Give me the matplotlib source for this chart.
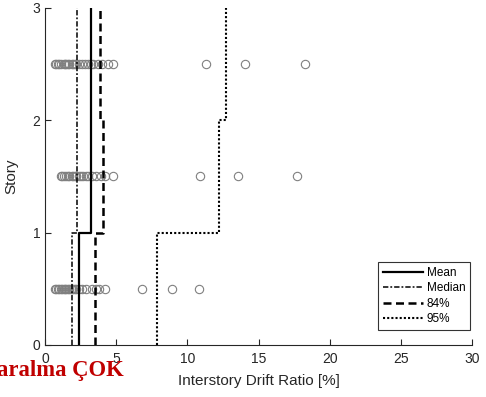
import matplotlib
matplotlib.use("Agg")
import matplotlib.pyplot as plt

plt.rcParams['font.family'] = ['Liberation Sans', 'DejaVu Sans']

# Story boundaries for the step profiles
story_edges = [0, 1, 2, 3]

# Drift ratio statistics per story [%]
mean_drift = [2.4, 3.23, 3.23]
median_drift = [1.9, 2.23, 2.23]
p84_drift = [3.51, 4.08, 3.89]
p95_drift = [7.85, 12.23, 12.72]

# Individual record drift ratios [%] at mid-height of each story
story_mid = [0.5, 1.5, 2.5]
drift_story1 = [0.7, 0.8, 0.9, 1.0, 1.1, 1.2, 1.3, 1.4, 1.5, 1.6, 1.7, 1.8,
                1.9, 2.0, 2.1, 2.2, 2.4, 2.6, 2.9, 3.3, 3.6, 3.8, 4.2,
                6.82, 8.92, 10.82]
drift_story2 = [1.1, 1.2, 1.3, 1.5, 1.6, 1.7, 1.9, 2.0, 2.1, 2.2, 2.4, 2.5,
                2.7, 2.9, 3.0, 3.3, 3.6, 3.9, 4.2, 4.8,
                10.87, 13.59, 17.73]
drift_story3 = [0.7, 0.8, 0.9, 1.0, 1.1, 1.3, 1.4, 1.5, 1.6, 1.7, 1.9, 2.0,
                2.1, 2.2, 2.4, 2.6, 2.8, 3.0, 3.2, 3.4, 3.7, 4.0, 4.4, 4.8,
                11.34, 14.08, 18.25]

x_ticks = [0, 5, 10, 15, 20, 25, 30]
y_ticks = [0, 1, 2, 3]


def stair(values):
    xs, ys = [], []
    for i, v in enumerate(values):
        xs += [v, v]
        ys += [story_edges[i], story_edges[i + 1]]
    return xs, ys


fig = plt.figure(figsize=(4.86, 3.97), dpi=100)
ax = fig.add_axes([0.0926, 0.131, 0.8786, 0.849])

txt = '#262626'
for mid, vals in zip(story_mid, [drift_story1, drift_story2, drift_story3]):
    ax.plot(vals, [mid] * len(vals), linestyle='none', marker='o',
            markersize=6, markerfacecolor='none', markeredgecolor='#808080',
            markeredgewidth=0.8, zorder=2)

xs, ys = stair(mean_drift)
ax.plot(xs, ys, color='black', lw=1.6, linestyle='-', label='Mean', zorder=3)
xs, ys = stair(median_drift)
ax.plot(xs, ys, color='black', lw=1.1, linestyle=(0, (3.5, 1.3, 1.2, 1.3)),
        label='Median', zorder=3)
xs, ys = stair(p84_drift)
ax.plot(xs, ys, color='black', lw=1.8, linestyle=(0, (3.2, 1.8)),
        label='84%', zorder=3)
xs, ys = stair(p95_drift)
ax.plot(xs, ys, color='black', lw=1.5, linestyle=(0, (1, 1)),
        label='95%', zorder=3)

ax.set_xlim(0, 30)
ax.set_ylim(0, 3)
ax.set_xticks(x_ticks)
ax.set_yticks(y_ticks)
ax.tick_params(direction='in', length=4, width=0.8, labelsize=10,
               labelcolor=txt, color=txt)
ax.tick_params(axis='x', pad=5)
ax.spines['top'].set_visible(False)
ax.spines['right'].set_visible(False)
for s in ('left', 'bottom'):
    ax.spines[s].set_color(txt)
    ax.spines[s].set_linewidth(0.8)

ax.set_xlabel('Interstory Drift Ratio [%]', fontsize=11, color=txt, labelpad=6)
ax.set_ylabel('Story', fontsize=11, color=txt, labelpad=10)

leg = ax.legend(loc='lower right', bbox_to_anchor=(425 / 427, 15 / 337),
                borderaxespad=0.0, fontsize=8.5, frameon=True, fancybox=False,
                handlelength=3.4, handletextpad=0.3, borderpad=0.4,
                labelspacing=0.3)
leg.get_frame().set_edgecolor('black')
leg.get_frame().set_linewidth(0.8)

fig.text(124 / 486, 1 - 376 / 397, 'aralma ÇOK', ha='right', va='baseline',
         fontsize=16.3, fontweight='bold', color='#c00000',
         family=['Liberation Serif', 'DejaVu Serif'])

fig.savefig('out.png', dpi=100)
